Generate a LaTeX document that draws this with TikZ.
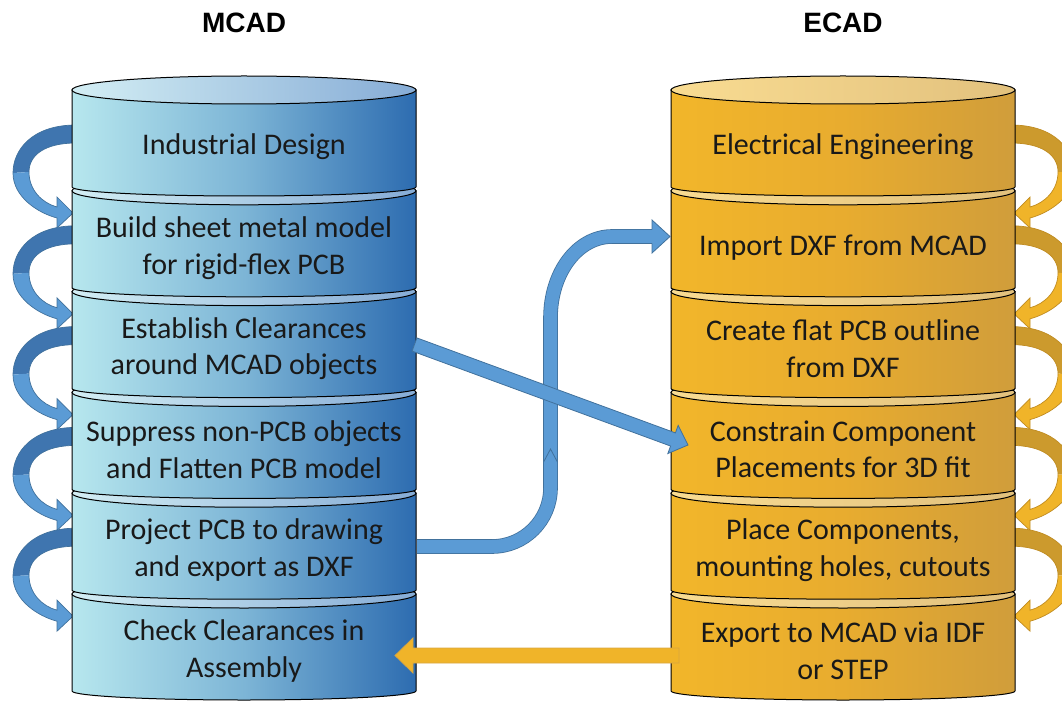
\documentclass[tikz,border=0pt]{standalone}
\usepackage{fontspec}
\setmainfont{Carlito}
\newfontfamily\titlefont{Liberation Sans}
\usetikzlibrary{calc}
\definecolor{mcL}{HTML}{B7E7EE}
\definecolor{mcM}{HTML}{7DB5D6}
\definecolor{mcR}{HTML}{2D6CB0}
\definecolor{mtL}{HTML}{D3EEF4}
\definecolor{mtR}{HTML}{86ACD6}
\definecolor{ecL}{HTML}{F2B62A}
\definecolor{ecM}{HTML}{E8AC2F}
\definecolor{ecR}{HTML}{D09D3B}
\definecolor{etL}{HTML}{F9DC92}
\definecolor{etR}{HTML}{E2C17D}
\definecolor{blueA}{HTML}{5B9BD5}
\definecolor{blueD}{HTML}{3F75AF}
\definecolor{blueO}{HTML}{41719C}
\definecolor{goldA}{HTML}{F0B429}
\definecolor{goldD}{HTML}{CC9A2D}
\definecolor{goldO}{HTML}{C08C22}
\definecolor{goldE}{HTML}{D9A640}
\newcommand\mycurl[3]{%
  \fill[#1] (76,125) .. controls (32,125) and (13,150) .. (13,173) -- (29,172) .. controls (29,155) and (45,143) .. (76,143) -- cycle;
  \fill[#2] (13,173) .. controls (13,197) and (38,213) .. (57,218) -- (57,228) -- (73,213) -- (57,197) -- (57,207) .. controls (42,203) and (29,190) .. (29,172) -- cycle;
  \draw[#3, line width=0.7pt] (76,125) .. controls (32,125) and (13,150) .. (13,173) .. controls (13,197) and (38,213) .. (57,218) -- (57,228) -- (73,213) -- (57,197) -- (57,207) .. controls (42,203) and (29,190) .. (29,172) .. controls (29,155) and (45,143) .. (76,143);
}
\newcommand\mdisk[1]{%
  \path[draw=black, line width=1pt, left color=mcL, right color=mcR, middle color=mcM] (72,#1) -- (72,#1+97) arc[start angle=180, end angle=0, x radius=172, y radius=9] -- (416,#1) -- cycle;
  \path[draw=black, line width=1pt, left color=mtL, right color=mtR] (244,#1) ellipse[x radius=172, y radius=14];
}
\newcommand\edisk[1]{%
  \path[draw=black, line width=1pt, left color=ecL, right color=ecR, middle color=ecM] (671,#1) -- (671,#1+97) arc[start angle=180, end angle=0, x radius=172, y radius=9] -- (1015,#1) -- cycle;
  \path[draw=black, line width=1pt, left color=etL, right color=etR] (843,#1) ellipse[x radius=172, y radius=14];
}
\begin{document}
\begin{tikzpicture}[x=1pt, y=-1pt,
  txt/.style={align=center, text=black!90, font=\fontsize{30pt}{36.6pt}\selectfont, inner sep=0pt},
  ttl/.style={font=\titlefont\bfseries\fontsize{28pt}{34pt}\selectfont, inner sep=0pt}]
\useasboundingbox (0,0) rectangle (1062,703);
% curved step arrows, left
\foreach \d in {0,100.8,201.6,302.4,403.2} {
  \begin{scope}[shift={(0,\d)}]
    \mycurl{blueD}{blueA}{blueO}
  \end{scope}
}
% curved step arrows, right (mirrored, clipped at the edge)
\begin{scope}
  \clip (0,0) rectangle (1062,703);
  \foreach \d in {0,100.8,201.6,302.4,403.2} {
    \begin{scope}[xshift=1087pt, xscale=-1, shift={(0,\d)}]
      \mycurl{goldD}{goldA}{goldO}
    \end{scope}
  }
\end{scope}
% cylinders
\foreach \yt in {594,493.2,392.4,291.6,190.8,90} {
  \mdisk{\yt}
  \edisk{\yt}
}
% titles
\node[ttl] (mcad) at (244,23) {MCAD};
\node[ttl] (ecad) at (843,23) {ECAD};
% texts
\node[txt] (m1) at (244,147) {Industrial Design};
\node[txt] (m2) at (244,248) {Build sheet metal model\\for rigid-flex PCB};
\node[txt] (m3) at (244,348.6) {Establish Clearances\\around MCAD objects};
\node[txt] (m4) at (244,449.4) {Suppress non-PCB objects\\and Flatten PCB model};
\node[txt] (m5) at (244,550.2) {Project PCB to drawing\\and export as DXF};
\node[txt] (m6) at (244,651) {Check Clearances in\\Assembly};
\node[txt] (e1) at (843,147) {Electrical Engineering};
\node[txt] (e2) at (843,248) {Import DXF from MCAD};
\node[txt] (e3) at (843,348.6) {Create flat PCB outline\\from DXF};
\node[txt] (e4) at (843,449.4) {Constrain Component\\Placements for 3D fit};
\node[txt] (e5) at (843,550.2) {Place Components,\\mounting holes, cutouts};
\node[txt] (e6) at (843,651) {Export to MCAD via IDF\\or STEP};
% L-shaped arrow: Project PCB -> Import DXF
\coordinate (lA) at (417,546.5);
\coordinate (lB) at (654,236.5);
\coordinate (lT) at (670,236.5);
\draw[line width=0.8pt, draw=blueO, double=blueA, double distance=13pt]
  (lA) -- (492,546.5) .. controls (524.3,546.5) and (550.5,520.3) .. (550.5,488)
  -- (550.5,318) .. controls (550.5,272) and (578,236.5) .. (612,236.5) -- (lB);
\fill[blueA] (652,220) -- (lT) -- (652,253) -- cycle;
\draw[blueO, line width=0.8pt] (652,229.6) -- (652,220) -- (lT) -- (652,253) -- (652,243.4);
\draw[blueO, line width=0.8pt] (543.6,462) -- (550.5,449) -- (557.4,462);
% diagonal arrow: Establish Clearances -> Constrain Component
\coordinate (dA) at (414.5,344.5);
\coordinate (dB) at (688,445);
\coordinate (dH) at ($(dB)!16pt!(dA)$);
\filldraw[fill=blueA, draw=blueO, line width=0.8pt]
  ($(dA)!7pt!90:(dB)$) -- ($(dH)!7pt!90:(dB)$) -- ($(dH)!15pt!90:(dB)$) -- (dB)
  -- ($(dH)!15pt!-90:(dB)$) -- ($(dH)!7pt!-90:(dB)$) -- ($(dA)!7pt!-90:(dB)$) -- cycle;
% orange arrow: Export -> Check Clearances
\coordinate (oA) at (679,655.5);
\coordinate (oT) at (395,655.5);
\filldraw[fill=goldA, draw=goldE, line width=0.8pt]
  (679,648) -- (413,648) -- (413,638) -- (oT) -- (413,673) -- (413,663) -- (679,663) -- cycle;
\end{tikzpicture}
\end{document}
